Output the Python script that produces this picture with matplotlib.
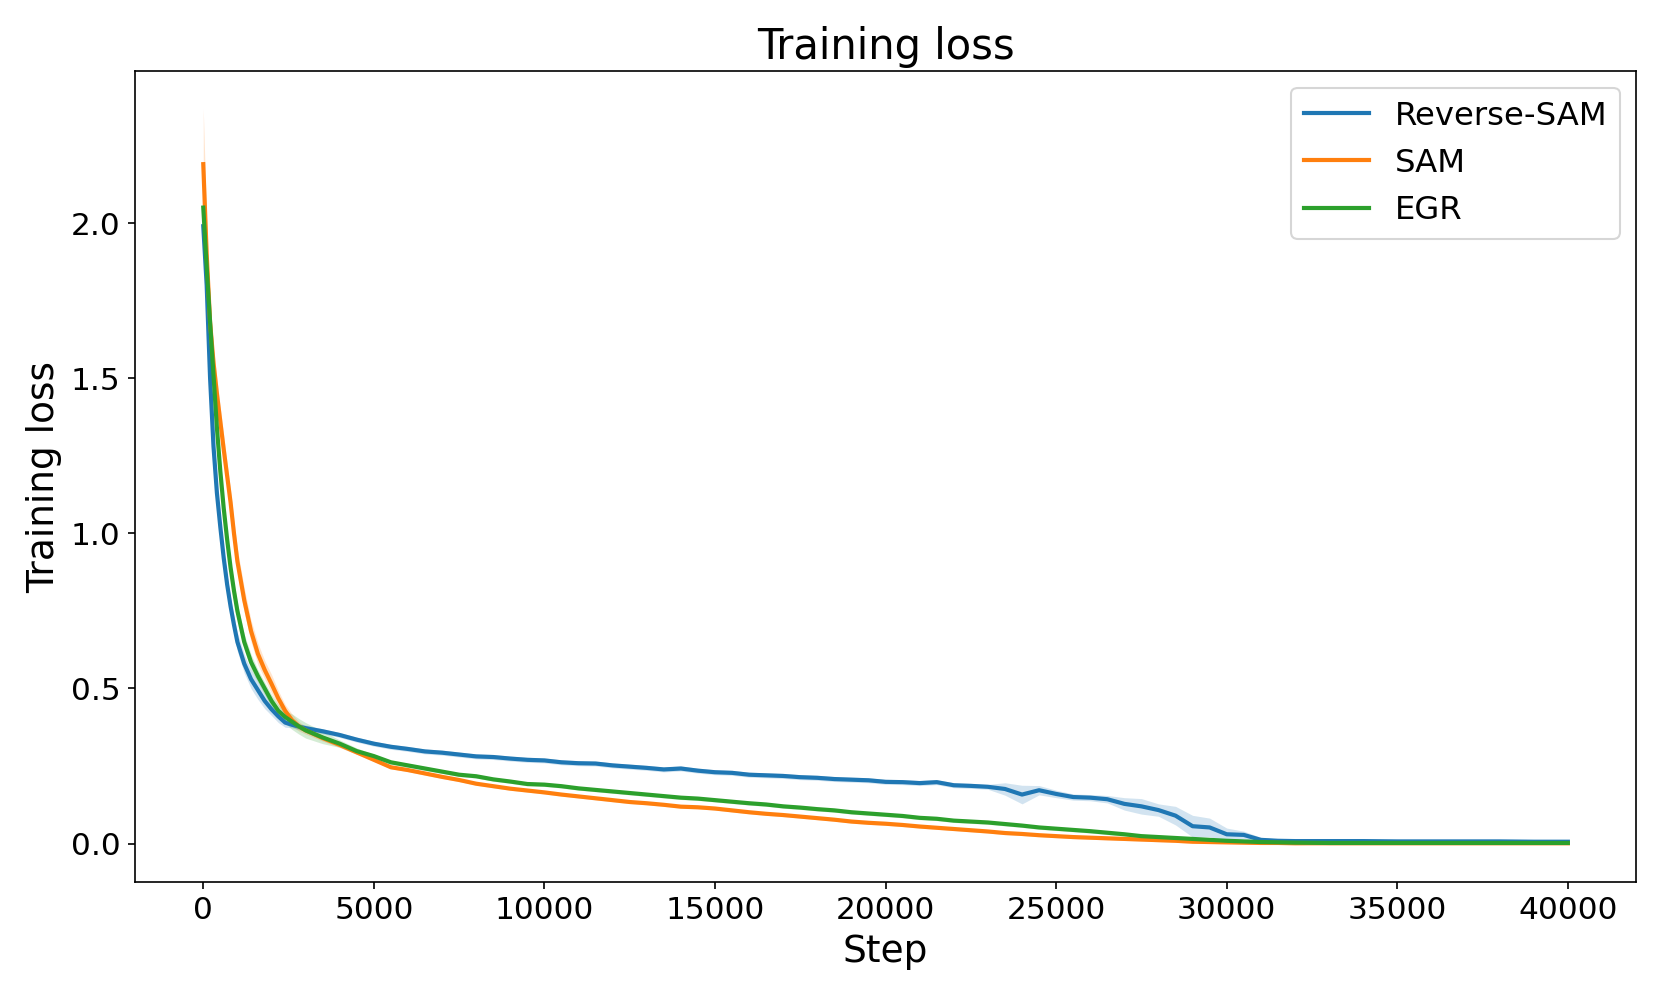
import numpy as np
import matplotlib
matplotlib.use("Agg")
import matplotlib.pyplot as plt

# steps at which the loss was logged
steps = (list(range(0, 1001, 100)) + list(range(1200, 3001, 200))
         + list(range(3500, 32001, 500)) + list(range(33000, 40001, 1000)))

# mean training loss per method
rsam = ([1.99, 1.80, 1.50, 1.28, 1.13, 1.02, 0.92, 0.835, 0.765, 0.705, 0.65]
        + [0.58, 0.53, 0.495, 0.46, 0.433, 0.41, 0.39, 0.383, 0.377, 0.372]
        + [0.362, 0.35, 0.335, 0.322, 0.312, 0.305, 0.297, 0.293, 0.287, 0.281,
           0.279, 0.274, 0.27, 0.268, 0.262, 0.259, 0.258, 0.252, 0.248, 0.244,
           0.239, 0.242, 0.235, 0.23, 0.228, 0.222, 0.22, 0.218, 0.214, 0.212,
           0.208, 0.206, 0.204, 0.199, 0.198, 0.195, 0.198, 0.188, 0.186, 0.183,
           0.176, 0.158, 0.172, 0.16, 0.15, 0.148, 0.143, 0.128, 0.12, 0.108,
           0.09, 0.056, 0.052, 0.03, 0.028, 0.012, 0.009, 0.008]
        + [0.008, 0.008, 0.007, 0.007, 0.007, 0.007, 0.006, 0.006])
sam = ([2.19, 1.90, 1.68, 1.55, 1.45, 1.36, 1.27, 1.185, 1.10, 1.00, 0.91]
       + [0.785, 0.685, 0.612, 0.56, 0.515, 0.468, 0.428, 0.398, 0.378, 0.365]
       + [0.34, 0.318, 0.294, 0.27, 0.246, 0.237, 0.226, 0.215, 0.205, 0.193,
          0.185, 0.177, 0.171, 0.165, 0.158, 0.152, 0.146, 0.14, 0.134, 0.13,
          0.125, 0.119, 0.117, 0.113, 0.107, 0.101, 0.096, 0.092, 0.087, 0.082,
          0.077, 0.071, 0.067, 0.064, 0.06, 0.055, 0.051, 0.047, 0.043, 0.039,
          0.034, 0.031, 0.027, 0.024, 0.021, 0.019, 0.017, 0.015, 0.013, 0.011,
          0.009, 0.006, 0.005, 0.004, 0.003, 0.002, 0.002, 0.001]
       + [0.001] * 8)
egr = ([2.05, 1.86, 1.68, 1.51, 1.34, 1.20, 1.08, 0.98, 0.89, 0.815, 0.75]
       + [0.65, 0.585, 0.54, 0.50, 0.46, 0.428, 0.408, 0.393, 0.378, 0.365]
       + [0.342, 0.322, 0.298, 0.282, 0.262, 0.252, 0.242, 0.232, 0.222, 0.217,
          0.207, 0.2, 0.192, 0.19, 0.185, 0.178, 0.173, 0.168, 0.163, 0.158,
          0.153, 0.148, 0.145, 0.14, 0.135, 0.13, 0.126, 0.12, 0.116, 0.111,
          0.107, 0.101, 0.097, 0.093, 0.089, 0.083, 0.08, 0.074, 0.071, 0.068,
          0.063, 0.058, 0.052, 0.048, 0.044, 0.04, 0.035, 0.03, 0.024, 0.021,
          0.018, 0.015, 0.012, 0.009, 0.007, 0.005, 0.004, 0.003]
       + [0.002] * 8)

# half-width of the shaded spread over seeds
rsam_sd = ([0.02, 0.03, 0.03, 0.03, 0.03, 0.03, 0.03, 0.03, 0.03, 0.03, 0.03]
           + [0.03, 0.03, 0.03, 0.025, 0.02, 0.02, 0.015, 0.01, 0.01, 0.01]
           + [0.008] * 40
           + [0.02, 0.03, 0.015, 0.012, 0.01, 0.01, 0.012, 0.02, 0.025, 0.02,
              0.03, 0.035, 0.03, 0.02, 0.012, 0.008, 0.006, 0.005]
           + [0.004] * 8)
sam_sd = ([0.18, 0.10, 0.06, 0.05, 0.05, 0.045, 0.045, 0.04, 0.04, 0.04, 0.04]
          + [0.04, 0.035, 0.035, 0.03, 0.03, 0.025, 0.02, 0.02, 0.015, 0.012]
          + [0.01, 0.008, 0.007] + [0.005] * 55
          + [0.002] * 8)
egr_sd = ([0.02, 0.025, 0.025, 0.025, 0.025, 0.025, 0.025, 0.025, 0.025, 0.025, 0.025]
          + [0.025, 0.025, 0.02, 0.02, 0.02, 0.02, 0.02, 0.025, 0.025, 0.025]
          + [0.02, 0.012, 0.01] + [0.006] * 55
          + [0.002] * 8)

labels = ["Reverse-SAM", "SAM", "EGR"]
colors = ["tab:blue", "tab:orange", "tab:green"]

fig, ax = plt.subplots(figsize=(1661 / 150, 997 / 150), dpi=150)
x = np.array(steps)
for mean, sd, lab, c in zip([rsam, sam, egr], [rsam_sd, sam_sd, egr_sd], labels, colors):
    m = np.array(mean)
    s = np.array(sd)
    ax.plot(x, m, color=c, lw=2, label=lab)
    ax.fill_between(x, m - s, m + s, color=c, alpha=0.2, lw=0)

ax.set_title("Training loss", fontsize=20)
ax.set_xlabel("Step", fontsize=18)
ax.set_ylabel("Training loss", fontsize=18)
ax.tick_params(labelsize=15)
ax.legend(fontsize=15.5, loc="upper right")

fig.subplots_adjust(left=0.0813, right=0.985, bottom=0.1157, top=0.9283)
fig.savefig("out.png", dpi=150)
